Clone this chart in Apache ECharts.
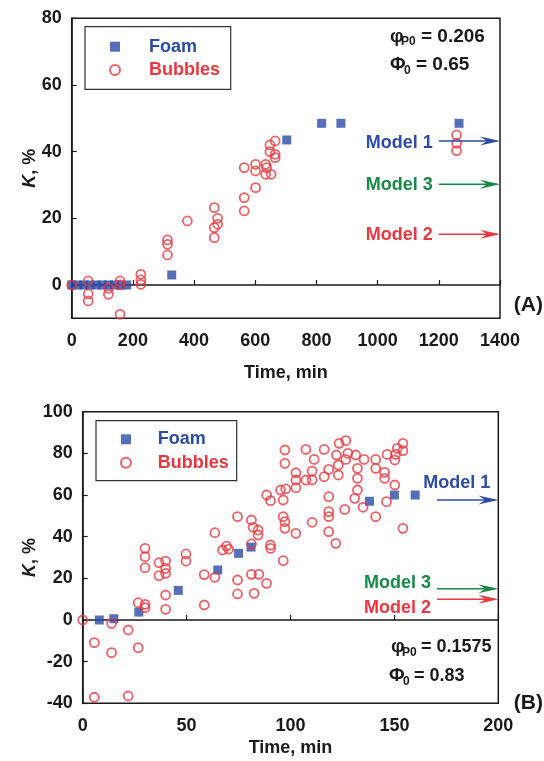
<!DOCTYPE html>
<html><head><meta charset="utf-8">
<script src="https://cdn.jsdelivr.net/npm/echarts@6/dist/echarts.min.js"></script>
<style>html,body{margin:0;padding:0;background:#fff}#c{width:544px;height:761px}</style>
</head><body><div id="c"></div>
<script>
// ---------- Panel A data ----------
const foamA_time = [0, 20, 40, 60, 80, 100, 120, 140, 160, 180, 327, 703, 817, 880, 1266];
const foamA_K    = [0, 0, 0, 0, 0, 0, 0, 0, 0, 0, 3, 43.5, 48.5, 48.5, 48.5];
const bubblesA_time = [0, 54, 54, 54, 120, 120, 158, 158, 158, 226, 226, 226, 313, 313, 313, 378, 466, 477, 477, 466, 466,
  564, 564, 564, 601, 601, 601, 634, 637, 634, 652, 648, 648, 665, 665, 665, 1258, 1258, 1258];
const bubblesA_K = [0, 1.2, -2.7, -4.8, -1, -2.8, 1.2, 0, -8.8, 3.2, 1.5, 0.2, 13.5, 12.2, 9, 19.2, 23.2, 20, 18.2, 17.2, 14.2,
  35.2, 26.2, 22.2, 36.2, 34.2, 29.2, 36.2, 35.2, 33.2, 33.2, 42, 40, 43.2, 39.2, 38.2, 45, 42.5, 40.3];
const modelNames = ['Model 1', 'Model 3', 'Model 2'];
const modelsA_K = [43.2, 30.2, 15.2];
const xTicksA = [0, 200, 400, 600, 800, 1000, 1200, 1400];
const yTicksA = [0, 20, 40, 60, 80];

// ---------- Panel B data ----------
const foamB_time = [8, 15, 27, 46, 65, 75, 81, 138, 150, 160];
const foamB_K    = [0, 0.6, 3.8, 14.2, 24, 32, 35, 57, 60, 60];
const bubblesB_time = [0, 5.6, 5.6, 13.9, 13.9, 21.9, 21.9, 26.7, 26.7, 30, 30, 30, 30, 30,
  36.7, 36.7, 39.9, 39.9, 39.9, 39.9, 39.9, 49.7, 49.7, 58.5, 58.5, 63.6, 63.6, 67.3, 69.2, 70.2,
  74.5, 74.5, 74.5, 81.2, 82, 84.4, 84.4, 81.2, 81.2, 84.8, 82.5, 88.5, 90.4, 90.4, 96.5,
  88.5, 90.4, 95.2, 96.5, 97.7, 96.5, 97.3, 97.3, 102.6, 97.3, 97.3, 102.6, 102.6, 102.6, 107.4, 107.4,
  110.4, 111.4, 110.4, 110.4, 116.2, 116.2, 118.4, 118.4, 118.4, 118.4, 118.4, 121.8, 122.1, 123, 123, 123.4,
  126.6, 127.6, 126.6, 126.1, 131.4, 132.2, 132.2, 132.2, 130.9, 134.9, 135.4, 141, 141, 141, 145.3, 145.3,
  146.2, 146.5, 150.2, 150.6, 150.2, 151.4, 154.1, 154.1, 154.1];
const bubblesB_K = [0, -10.9, -37.1, -1.6, -15.7, -4.8, -36.5, 8.3, -13.3, 34.4, 30.4, 25.1, 7.5, 5.9,
  27.5, 21.3, 28.3, 24.8, 22.4, 12, 5.1, 31.7, 28.3, 21.8, 7.2, 41.9, 20.5, 33.6, 35.5, 34,
  49.6, 19.2, 12.5, 48, 44.5, 43.2, 40.8, 36.5, 21.9, 21.9, 12.8, 17.6, 36, 34.4, 28.5,
  60, 57.3, 62.4, 57.6, 62.9, 49.6, 47.2, 44, 41.6, 81.6, 75.2, 70.7, 67.2, 63.5, 81.9, 67.2,
  67.2, 77.1, 71.5, 46.9, 81.9, 68.8, 72.3, 59.2, 52, 49.6, 42.4, 36.8, 79.2, 74.4, 69.6, 84.8,
  86.1, 80, 77.1, 53.1, 79.2, 72.8, 68, 62.4, 58.4, 54.1, 77.1, 77.1, 72.8, 49.6, 70.9, 68,
  56.8, 79.5, 76.8, 79.5, 64.8, 82.4, 84.8, 81.3, 44];
const modelsB_K = [57.6, 15, 10];
const xTicksB = [0, 50, 100, 150, 200];
const yTicksB = [-40, -20, 0, 20, 40, 60, 80, 100];

// ---------- styling / layout ----------
const FONT = 'Liberation Sans, Arial, Helvetica, sans-serif';
const BLUE = '#2c4ca6', RED = '#e8383e', GREEN = '#178a45', INK = '#1a1a1a';
const modelColors = [BLUE, GREEN, RED];
const arrowA = {start: 1200, end: 1400};
const arrowB = {start: 170.5, end: 200};
const labelA = [{anchor: 's', dx: -6, dy: 2}, {anchor: 's', dx: -6, dy: 1}, {anchor: 's', dx: -6, dy: 1}];
const labelB = [{anchor: 'e', dx: -8, dy: -17}, {anchor: 's', dx: -6, dy: -6}, {anchor: 's', dx: -6, dy: 9}];

const zip = (a, b) => a.map((v, i) => [v, b[i]]);

function arrowRender(labels) {
  return function (params, api) {
    const i = params.dataIndex;
    const s = api.coord([api.value(0), api.value(2)]);
    const e = api.coord([api.value(1), api.value(2)]);
    const c = modelColors[i];
    const lo = labels[i];
    const tx = (lo.anchor === 'e' ? e[0] : s[0]) + lo.dx;
    return {
      type: 'group', children: [
        {type: 'line', shape: {x1: s[0], y1: s[1], x2: e[0] - 3, y2: e[1]}, style: {stroke: c, lineWidth: 1.5}},
        {type: 'polygon', shape: {points: [[e[0], e[1]], [e[0] - 20, e[1] - 4.5], [e[0] - 13, e[1]], [e[0] - 20, e[1] + 4.5]]}, style: {fill: c}},
        {type: 'text', x: tx, y: s[1] + lo.dy, style: {text: modelNames[i], fill: c, font: 'bold 18px ' + FONT, align: 'right', verticalAlign: 'middle'}}
      ]
    };
  };
}

const plain = v => String(v);
const axisLabelStyle = {color: INK, fontSize: 18, fontWeight: 'bold', fontFamily: FONT, formatter: plain};
const nameStyle = {color: INK, fontSize: 18, fontWeight: 'bold', fontFamily: FONT};
const yNameStyle = {
  color: INK, fontFamily: FONT,
  rich: {
    i: {fontStyle: 'italic', fontWeight: 'bold', fontSize: 18, fontFamily: FONT, color: INK},
    n: {fontWeight: 'bold', fontSize: 18, fontFamily: FONT, color: INK}
  }
};
const axisLine = {show: true, lineStyle: {color: INK, width: 1.5}};
const tick = {show: true, inside: true, length: 5, lineStyle: {color: INK, width: 1.2}};

const foamStyle = {color: BLUE};
const bubStyle = {color: 'rgba(255,255,255,0)', borderColor: RED, borderWidth: 1.8};

function legendCfg(left, top, gap, padLeft) {
  return {orient: 'vertical', left: left, top: top, padding: 0, itemGap: gap, itemWidth: 10, itemHeight: 10,
    selectedMode: false,
    textStyle: {fontSize: 18, fontWeight: 'bold', fontFamily: FONT, lineHeight: 20, padding: [0, 0, 0, padLeft]},
    data: [{name: 'Foam', textStyle: {color: BLUE}}, {name: 'Bubbles', textStyle: {color: RED}}]};
}

const option = {
  animation: false,
  backgroundColor: '#fff',
  grid: [
    {left: 71.7, top: 18.3, width: 428.3, height: 300, show: true, borderColor: INK, borderWidth: 1.5, backgroundColor: 'transparent'},
    {left: 82.7, top: 411.7, width: 415.6, height: 291.6, show: true, borderColor: INK, borderWidth: 1.5, backgroundColor: 'transparent'}
  ],
  xAxis: [
    {gridIndex: 0, type: 'value', min: xTicksA[0], max: xTicksA[xTicksA.length - 1], interval: 200,
      axisLine, axisTick: tick, splitLine: {show: false},
      axisLabel: Object.assign({margin: 14}, axisLabelStyle),
      name: 'Time, min', nameLocation: 'middle', nameGap: 46, nameMoveOverlap: false, nameTextStyle: nameStyle},
    {gridIndex: 1, type: 'value', min: xTicksB[0], max: xTicksB[xTicksB.length - 1], interval: 50,
      axisLine, axisTick: tick, splitLine: {show: false},
      axisLabel: Object.assign({margin: 14}, axisLabelStyle),
      name: 'Time, min', nameLocation: 'middle', nameGap: 36, nameMoveOverlap: false, nameTextStyle: nameStyle}
  ],
  yAxis: [
    {gridIndex: 0, type: 'value', min: -10, max: 80,
      axisLine, splitLine: {show: false},
      axisTick: Object.assign({customValues: yTicksA}, tick),
      axisLabel: Object.assign({margin: 10, customValues: yTicksA}, axisLabelStyle),
      name: '{i|K}{n|, %}', nameLocation: 'middle', nameGap: 33, nameMoveOverlap: false, nameTextStyle: yNameStyle},
    {gridIndex: 1, type: 'value', min: yTicksB[0], max: yTicksB[yTicksB.length - 1], interval: 20,
      axisLine, splitLine: {show: false}, axisTick: tick,
      axisLabel: Object.assign({margin: 10}, axisLabelStyle),
      name: '{i|K}{n|, %}', nameLocation: 'middle', nameGap: 44, nameMoveOverlap: false, nameTextStyle: yNameStyle}
  ],
  legend: [
    legendCfg(109, 36.7, 3.3, 24),
    legendCfg(120, 429.3, 3.4, 21.7)
  ],
  series: [
    {name: 'Foam', type: 'scatter', xAxisIndex: 0, yAxisIndex: 0, symbol: 'rect', symbolSize: 9,
      itemStyle: foamStyle, data: zip(foamA_time, foamA_K), z: 2},
    {name: 'Bubbles', type: 'scatter', xAxisIndex: 0, yAxisIndex: 0, symbol: 'circle', symbolSize: 9,
      itemStyle: bubStyle, data: zip(bubblesA_time, bubblesA_K), z: 3},
    {name: 'ModelsA', type: 'custom', xAxisIndex: 0, yAxisIndex: 0, clip: false,
      renderItem: arrowRender(labelA),
      data: modelsA_K.map(v => [arrowA.start, arrowA.end, v]), z: 4},
    {name: 'Foam', type: 'scatter', xAxisIndex: 1, yAxisIndex: 1, symbol: 'rect', symbolSize: 9,
      itemStyle: foamStyle, data: zip(foamB_time, foamB_K), z: 2},
    {name: 'Bubbles', type: 'scatter', xAxisIndex: 1, yAxisIndex: 1, symbol: 'circle', symbolSize: 9,
      itemStyle: bubStyle, data: zip(bubblesB_time, bubblesB_K), z: 3},
    {name: 'ModelsB', type: 'custom', xAxisIndex: 1, yAxisIndex: 1, clip: false,
      renderItem: arrowRender(labelB),
      data: modelsB_K.map(v => [arrowB.start, arrowB.end, v]), z: 4}
  ],
  graphic: [
    // legend frames
    {type: 'rect', shape: {x: 85, y: 26.7, width: 145.7, height: 62.6}, style: {fill: null, stroke: '#333', lineWidth: 1.2}, silent: true},
    {type: 'rect', shape: {x: 96, y: 420.7, width: 140.7, height: 60}, style: {fill: null, stroke: '#333', lineWidth: 1.2}, silent: true},
    // panel A parameters
    {type: 'text', x: 390, y: 37, style: {text: 'φ', font: 'bold 19px ' + FONT, fill: INK, verticalAlign: 'middle'}},
    {type: 'text', x: 401, y: 42, style: {text: 'P0', font: 'bold 12px ' + FONT, fill: INK, verticalAlign: 'middle'}},
    {type: 'text', x: 421, y: 37, style: {text: '= 0.206', font: 'bold 19px ' + FONT, fill: INK, verticalAlign: 'middle'}},
    {type: 'text', x: 390, y: 65, style: {text: 'Φ', font: 'bold 19px ' + FONT, fill: INK, verticalAlign: 'middle'}},
    {type: 'text', x: 404, y: 71, style: {text: '0', font: 'bold 12px ' + FONT, fill: INK, verticalAlign: 'middle'}},
    {type: 'text', x: 416, y: 65, style: {text: '= 0.65', font: 'bold 19px ' + FONT, fill: INK, verticalAlign: 'middle'}},
    {type: 'text', x: 543, y: 305, style: {text: '(A)', font: 'bold 21px ' + FONT, fill: INK, verticalAlign: 'middle', align: 'right'}},
    // panel B parameters
    {type: 'text', x: 391, y: 647, style: {text: 'φ', font: 'bold 19px ' + FONT, fill: INK, verticalAlign: 'middle'}},
    {type: 'text', x: 402, y: 653, style: {text: 'P0', font: 'bold 12px ' + FONT, fill: INK, verticalAlign: 'middle'}},
    {type: 'text', x: 421, y: 647, style: {text: '= 0.1575', font: 'bold 18px ' + FONT, fill: INK, verticalAlign: 'middle'}},
    {type: 'text', x: 389, y: 676, style: {text: 'Φ', font: 'bold 19px ' + FONT, fill: INK, verticalAlign: 'middle'}},
    {type: 'text', x: 403, y: 682, style: {text: '0', font: 'bold 12px ' + FONT, fill: INK, verticalAlign: 'middle'}},
    {type: 'text', x: 414, y: 676, style: {text: '= 0.83', font: 'bold 18px ' + FONT, fill: INK, verticalAlign: 'middle'}},
    {type: 'text', x: 543, y: 703, style: {text: '(B)', font: 'bold 21px ' + FONT, fill: INK, verticalAlign: 'middle', align: 'right'}}
  ]
};

const chart = echarts.init(document.getElementById('c'), null, {renderer: 'canvas'});
chart.setOption(option);
</script>
</body></html>
